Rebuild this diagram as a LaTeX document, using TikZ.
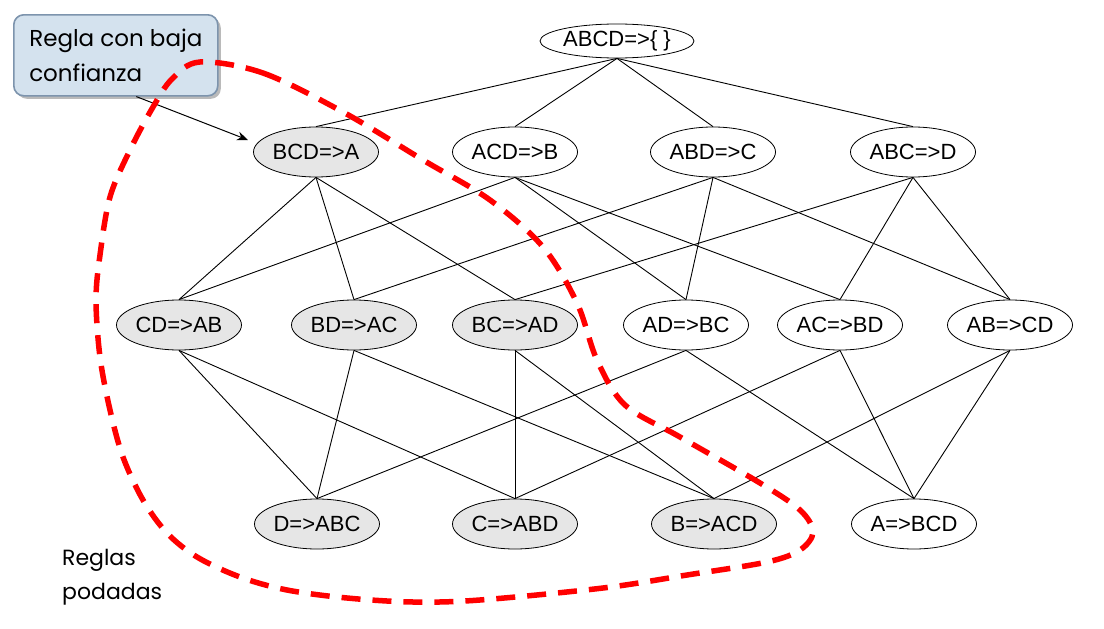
\documentclass[tikz,border=0pt]{standalone}
\usepackage{fontspec}
\setmainfont{Liberation Sans}
\newfontfamily\gothic{Poppins}
\usetikzlibrary{shapes.geometric,arrows.meta,shadows,calc}
\definecolor{calloutfill}{HTML}{D4E2EE}
\definecolor{calloutline}{HTML}{7D94AD}
\definecolor{prunedfill}{HTML}{E6E6E6}
\definecolor{prunered}{HTML}{FF0000}

\begin{document}
\begin{tikzpicture}[x=1pt,y=-1pt,
  rule/.style={ellipse, draw, line width=0.8pt, minimum width=125pt,
    minimum height=50pt, inner sep=0pt, font=\fontsize{22}{26}\selectfont},
  lowrule/.style={rule, fill=prunedfill},
  link/.style={line width=0.9pt},
  callout/.style={draw=calloutline, fill=calloutfill, line width=1.6pt,
    rounded corners=10pt, minimum width=204pt, minimum height=81pt,
    inner sep=0pt, align=left,
    font=\gothic\fontsize{23}{35}\selectfont,
    drop shadow={shadow xshift=3pt, shadow yshift=-3pt, opacity=0.45, fill=black!60}},
  legend/.style={align=left, inner sep=0pt, font=\gothic\fontsize{22}{34}\selectfont},
  pointer/.style={line width=1pt, -{Stealth[length=11pt, width=9pt]}},
  prunecurve/.style={prunered, line width=5.5pt, dash pattern=on 19pt off 12pt}]

\useasboundingbox (0,0) rectangle (1104,629);

% lattice of rules
\node[rule, minimum width=154pt, minimum height=34pt] (abcd) at (617,41) {ABCD=>\{ \}};

\node[lowrule] (bcd) at (316,152) {BCD=>A};
\node[rule] (acd) at (515,152) {ACD=>B};
\node[rule] (abd) at (713,152) {ABD=>C};
\node[rule] (abc) at (913,152) {ABC=>D};

\node[lowrule] (cd) at (179,325) {CD=>AB};
\node[lowrule] (bd) at (354,325) {BD=>AC};
\node[lowrule] (bc) at (515,325) {BC=>AD};
\node[rule] (ad) at (686,325) {AD=>BC};
\node[rule] (ac) at (840,325) {AC=>BD};
\node[rule] (ab) at (1010,325) {AB=>CD};

\node[lowrule] (d) at (317,524) {D=>ABC};
\node[lowrule] (c) at (515,524) {C=>ABD};
\node[lowrule] (b) at (714,524) {B=>ACD};
\node[rule] (a) at (914,524) {A=>BCD};

\foreach \t in {bcd,acd,abd,abc} \draw[link] (abcd.south) -- (\t.north);
\foreach \s/\t in {bcd/cd,bcd/bd,bcd/bc,
                   acd/cd,acd/ad,acd/ac,
                   abd/bd,abd/ad,abd/ab,
                   abc/bc,abc/ac,abc/ab,
                   cd/d,cd/c,bd/d,bd/b,bc/c,bc/b,
                   ad/d,ad/a,ac/c,ac/a,ab/b,ab/a}
  \draw[link] (\s.south) -- (\t.north);

% callout pointing at the low-confidence rule
\node[callout, anchor=north west] (note) at (13,14) {Regla con baja\\confianza};
\coordinate (tip) at (248,140);
\draw[pointer] ($(note.south west)!0.6!(note.south east)$) -- (tip);

% boundary of the pruned rules
\draw[prunecurve] plot[smooth cycle, tension=0.55] coordinates {
  (200,62) (263,73) (343,112) (423,160) (490,200) (543,247) (577,303)
  (597,360) (625,405) (680,437) (760,483) (800,510) (813,532) (800,550)
  (767,562) (687,575) (603,588) (480,600) (413,602) (347,598) (287,590)
  (240,577) (197,557) (167,533) (143,500) (123,457) (110,410) (100,357)
  (96,300) (100,255) (110,197) (130,150) (153,107) (172,79)};

\node[legend, anchor=west] (pruned) at (62,577) {Reglas\\podadas};
\end{tikzpicture}
\end{document}
